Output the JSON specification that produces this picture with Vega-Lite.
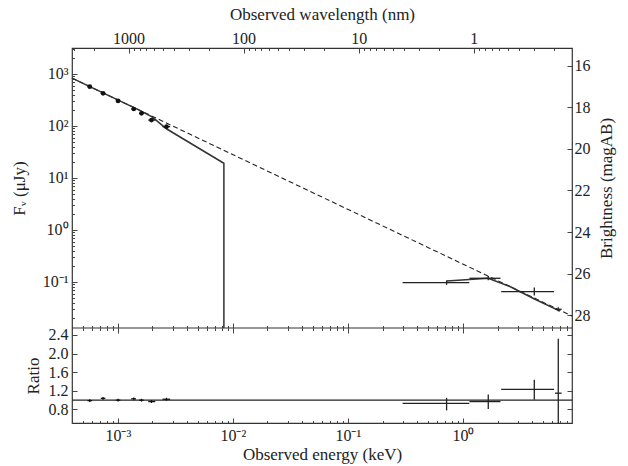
{
  "$schema": "https://vega.github.io/schema/vega-lite/v6.json",
  "width": 500,
  "height": 375,
  "autosize": {"type": "none"},
  "padding": {"left": 72, "top": 48, "right": 56, "bottom": 43},
  "background": "white",
  "config": {
    "font": "Liberation Serif",
    "view": {"stroke": "#333", "strokeWidth": 1.2},
    "axis": {
      "labelFont": "Liberation Serif",
      "titleFont": "Liberation Serif",
      "labelFontSize": 16,
      "titleFontSize": 17,
      "titleFontWeight": "normal",
      "labelColor": "#222",
      "titleColor": "#222",
      "domain": false,
      "grid": false,
      "tickColor": "#444",
      "tickWidth": 1,
      "labelOverlap": false,
      "labelFlush": false
    }
  },
  "datasets": {
    "dashed": [{"E": 0.0004, "F": 835}, {"E": 8.87, "F": 0.0222}],
    "solid": [
      {"seg": "o", "i": 1, "E": 0.0004, "F": 835},
      {"seg": "o", "i": 2, "E": 0.001553, "F": 200},
      {"seg": "o", "i": 3, "E": 0.002, "F": 148},
      {"seg": "o", "i": 4, "E": 0.002667, "F": 87.5},
      {"seg": "o", "i": 5, "E": 0.00836, "F": 19.2},
      {"seg": "o", "i": 6, "E": 0.00836, "F": 0.01304},
      {"seg": "x", "i": 1, "E": 0.721, "F": 0.1045},
      {"seg": "x", "i": 2, "E": 1.66, "F": 0.118},
      {"seg": "x", "i": 3, "E": 2.56, "F": 0.082},
      {"seg": "x", "i": 4, "E": 4.23, "F": 0.0465},
      {"seg": "x", "i": 5, "E": 6.97, "F": 0.0275}
    ],
    "opt": [
      {"E": 0.000571, "Elo": 0.000545, "Ehi": 0.000598, "F": 570, "Flo": 545, "Fhi": 596, "R": 0.99, "Rlo": 0.96, "Rhi": 1.02},
      {"E": 0.000745, "Elo": 0.000712, "Ehi": 0.00078, "F": 425, "Flo": 405, "Fhi": 446, "R": 1.04, "Rlo": 1.01, "Rhi": 1.07},
      {"E": 0.001006, "Elo": 0.00096, "Ehi": 0.001052, "F": 303, "Flo": 289, "Fhi": 318, "R": 1.0, "Rlo": 0.97, "Rhi": 1.03},
      {"E": 0.001377, "Elo": 0.00131, "Ehi": 0.00144, "F": 212, "Flo": 202, "Fhi": 222, "R": 1.03, "Rlo": 1.0, "Rhi": 1.06},
      {"E": 0.001607, "Elo": 0.00153, "Ehi": 0.00168, "F": 175, "Flo": 167, "Fhi": 184, "R": 1.0, "Rlo": 0.97, "Rhi": 1.03},
      {"E": 0.001963, "Elo": 0.00184, "Ehi": 0.00212, "F": 130, "Flo": 123, "Fhi": 137, "R": 0.97, "Rlo": 0.94, "Rhi": 1.0},
      {"E": 0.00265, "Elo": 0.00245, "Ehi": 0.00285, "F": 97, "Flo": 92, "Fhi": 102, "R": 1.02, "Rlo": 0.99, "Rhi": 1.05}
    ],
    "xr": [
      {"E": 0.721, "Elo": 0.299, "Ehi": 1.135, "F": 0.097, "Flo": 0.088, "Fhi": 0.107, "R": 0.93, "Rlo": 0.78, "Rhi": 1.05},
      {"E": 1.66, "Elo": 1.14, "Ehi": 2.12, "F": 0.118, "Flo": 0.108, "Fhi": 0.13, "R": 0.97, "Rlo": 0.81, "Rhi": 1.12},
      {"E": 4.17, "Elo": 2.15, "Ehi": 6.2, "F": 0.065, "Flo": 0.055, "Fhi": 0.078, "R": 1.23, "Rlo": 1.01, "Rhi": 1.44},
      {"E": 6.74, "Elo": 6.31, "Ehi": 7.21, "F": 0.0299, "Flo": 0.0274, "Fhi": 0.0327, "R": 1.15, "Rlo": 0.51, "Rhi": 2.32}
    ],
    "one": [{"lam": 10, "mag": 20, "R": 2.55, "E": 0.01}]
  },
  "layer": [
    {
      "data": {"name": "dashed"},
      "mark": {"type": "line", "color": "#222", "strokeWidth": 1.1, "strokeDash": [5, 3]},
      "encoding": {
        "x": {"field": "E", "type": "quantitative",
          "scale": {"type": "log", "domain": [0.0004, 8.87], "range": [0, 500]},
          "axis": {"orient": "bottom", "title": "Observed energy (keV)",
            "values": [0.0004,0.0005,0.0006,0.0007,0.0008,0.0009,0.001,0.002,0.003,0.004,0.005,0.006,0.007,0.008,0.009,0.01,0.02,0.03,0.04,0.05,0.06,0.07,0.08,0.09,0.1,0.2,0.3,0.4,0.5,0.6,0.7,0.8,0.9,1,2,3,4,5,6,7,8],
            "labelExpr": "datum.value == 0.001 ? '10⁻³' : datum.value == 0.01 ? '10⁻²' : datum.value == 0.1 ? '10⁻¹' : datum.value == 1 ? '10⁰' : ''",
            "tickSize": {"condition": {"test": "indexof([0.001,0.01,0.1,1], datum.value) >= 0", "value": -5}, "value": -2.5},
            "labelPadding": 9, "titlePadding": 1}},
        "y": {"field": "F", "type": "quantitative",
          "scale": {"type": "log", "domain": [0.01304, 3162.3], "range": [280, 0]},
          "axis": {"orient": "left", "title": "Fᵥ (μJy)",
            "values": [0.02,0.03,0.04,0.05,0.06,0.07,0.08,0.09,0.1,0.2,0.3,0.4,0.5,0.6,0.7,0.8,0.9,1,2,3,4,5,6,7,8,9,10,20,30,40,50,60,70,80,90,100,200,300,400,500,600,700,800,900,1000,2000,3000],
            "labelExpr": "datum.value == 0.1 ? '10⁻¹' : datum.value == 1 ? '10⁰' : datum.value == 10 ? '10¹' : datum.value == 100 ? '10²' : datum.value == 1000 ? '10³' : ''",
            "tickSize": {"condition": {"test": "indexof([0.1,1,10,100,1000], datum.value) >= 0", "value": -5}, "value": -2.5},
            "labelPadding": 9, "titlePadding": 14}}
      }
    },
    {
      "data": {"name": "solid"},
      "mark": {"type": "line", "color": "#333", "strokeWidth": 1.5},
      "encoding": {
        "x": {"field": "E", "type": "quantitative", "scale": {"type": "log", "domain": [0.0004, 8.87], "range": [0, 500]}, "axis": null},
        "y": {"field": "F", "type": "quantitative", "scale": {"type": "log", "domain": [0.01304, 3162.3], "range": [280, 0]}, "axis": null},
        "detail": {"field": "seg"},
        "order": {"field": "i"}
      }
    },
    {
      "data": {"name": "opt"},
      "mark": {"type": "rule", "color": "#111", "strokeWidth": 1.3},
      "encoding": {
        "x": {"field": "Elo", "type": "quantitative", "scale": {"type": "log", "domain": [0.0004, 8.87], "range": [0, 500]}, "axis": null},
        "x2": {"field": "Ehi"},
        "y": {"field": "F", "type": "quantitative", "scale": {"type": "log", "domain": [0.01304, 3162.3], "range": [280, 0]}, "axis": null}
      }
    },
    {
      "data": {"name": "opt"},
      "mark": {"type": "rule", "color": "#111", "strokeWidth": 1.3},
      "encoding": {
        "x": {"field": "E", "type": "quantitative", "scale": {"type": "log", "domain": [0.0004, 8.87], "range": [0, 500]}, "axis": null},
        "y": {"field": "Flo", "type": "quantitative", "scale": {"type": "log", "domain": [0.01304, 3162.3], "range": [280, 0]}, "axis": null},
        "y2": {"field": "Fhi"}
      }
    },
    {
      "data": {"name": "opt"},
      "mark": {"type": "point", "filled": true, "color": "#111", "size": 22, "opacity": 1},
      "encoding": {
        "x": {"field": "E", "type": "quantitative", "scale": {"type": "log", "domain": [0.0004, 8.87], "range": [0, 500]}, "axis": null},
        "y": {"field": "F", "type": "quantitative", "scale": {"type": "log", "domain": [0.01304, 3162.3], "range": [280, 0]}, "axis": null}
      }
    },
    {
      "data": {"name": "xr"},
      "mark": {"type": "rule", "color": "#222", "strokeWidth": 1.3},
      "encoding": {
        "x": {"field": "Elo", "type": "quantitative", "scale": {"type": "log", "domain": [0.0004, 8.87], "range": [0, 500]}, "axis": null},
        "x2": {"field": "Ehi"},
        "y": {"field": "F", "type": "quantitative", "scale": {"type": "log", "domain": [0.01304, 3162.3], "range": [280, 0]}, "axis": null}
      }
    },
    {
      "data": {"name": "xr"},
      "mark": {"type": "rule", "color": "#222", "strokeWidth": 1.3},
      "encoding": {
        "x": {"field": "E", "type": "quantitative", "scale": {"type": "log", "domain": [0.0004, 8.87], "range": [0, 500]}, "axis": null},
        "y": {"field": "Flo", "type": "quantitative", "scale": {"type": "log", "domain": [0.01304, 3162.3], "range": [280, 0]}, "axis": null},
        "y2": {"field": "Fhi"}
      }
    },
    {
      "data": {"name": "one"},
      "mark": {"type": "rule", "color": "#222", "strokeWidth": 1.3},
      "encoding": {
        "y": {"datum": 1, "type": "quantitative",
          "scale": {"type": "linear", "domain": [0.51, 2.55], "range": [375, 280], "zero": false, "nice": false},
          "axis": {"orient": "left", "title": "Ratio", "values": [0.8, 1.2, 1.6, 2.0, 2.4], "format": ".1f",
            "tickSize": -5, "labelPadding": 9, "titlePadding": 6}}
      }
    },
    {
      "data": {"name": "one"},
      "mark": {"type": "rule", "color": "#333", "strokeWidth": 1.2},
      "encoding": {
        "y": {"field": "R", "type": "quantitative",
          "scale": {"type": "linear", "domain": [0.51, 2.55], "range": [375, 280], "zero": false, "nice": false},
          "axis": {"orient": "right", "values": [0.8, 1.2, 1.6, 2.0, 2.4], "labels": false, "title": null, "tickSize": -5}}
      }
    },
    {
      "data": {"name": "opt"},
      "mark": {"type": "rule", "color": "#111", "strokeWidth": 1.3},
      "encoding": {
        "x": {"field": "Elo", "type": "quantitative", "scale": {"type": "log", "domain": [0.0004, 8.87], "range": [0, 500]}, "axis": null},
        "x2": {"field": "Ehi"},
        "y": {"field": "R", "type": "quantitative", "scale": {"type": "linear", "domain": [0.51, 2.55], "range": [375, 280], "zero": false, "nice": false}, "axis": null}
      }
    },
    {
      "data": {"name": "opt"},
      "mark": {"type": "rule", "color": "#111", "strokeWidth": 1.3},
      "encoding": {
        "x": {"field": "E", "type": "quantitative", "scale": {"type": "log", "domain": [0.0004, 8.87], "range": [0, 500]}, "axis": null},
        "y": {"field": "Rlo", "type": "quantitative", "scale": {"type": "linear", "domain": [0.51, 2.55], "range": [375, 280], "zero": false, "nice": false}, "axis": null},
        "y2": {"field": "Rhi"}
      }
    },
    {
      "data": {"name": "xr"},
      "mark": {"type": "rule", "color": "#222", "strokeWidth": 1.3},
      "encoding": {
        "x": {"field": "Elo", "type": "quantitative", "scale": {"type": "log", "domain": [0.0004, 8.87], "range": [0, 500]}, "axis": null},
        "x2": {"field": "Ehi"},
        "y": {"field": "R", "type": "quantitative", "scale": {"type": "linear", "domain": [0.51, 2.55], "range": [375, 280], "zero": false, "nice": false}, "axis": null}
      }
    },
    {
      "data": {"name": "xr"},
      "mark": {"type": "rule", "color": "#222", "strokeWidth": 1.3},
      "encoding": {
        "x": {"field": "E", "type": "quantitative", "scale": {"type": "log", "domain": [0.0004, 8.87], "range": [0, 500]}, "axis": null},
        "y": {"field": "Rlo", "type": "quantitative", "scale": {"type": "linear", "domain": [0.51, 2.55], "range": [375, 280], "zero": false, "nice": false}, "axis": null},
        "y2": {"field": "Rhi"}
      }
    },
    {
      "data": {"name": "one"},
      "mark": {"type": "point", "opacity": 0},
      "encoding": {
        "x": {"field": "E", "type": "quantitative",
          "scale": {"type": "log", "domain": [0.0004, 8.87], "range": [0, 500]},
          "axis": {"orient": "bottom", "offset": -95, "labels": false, "title": null,
            "values": [0.0004,0.0005,0.0006,0.0007,0.0008,0.0009,0.001,0.002,0.003,0.004,0.005,0.006,0.007,0.008,0.009,0.01,0.02,0.03,0.04,0.05,0.06,0.07,0.08,0.09,0.1,0.2,0.3,0.4,0.5,0.6,0.7,0.8,0.9,1,2,3,4,5,6,7,8],
            "tickSize": {"condition": {"test": "indexof([0.001,0.01,0.1,1], datum.value) >= 0", "value": -5}, "value": -2.5}}}
      }
    },
    {
      "data": {"name": "one"},
      "mark": {"type": "point", "opacity": 0},
      "encoding": {
        "x": {"field": "E", "type": "quantitative",
          "scale": {"type": "log", "domain": [0.0004, 8.87], "range": [0, 500]},
          "axis": {"orient": "top", "offset": -280, "labels": false, "title": null,
            "values": [0.0004,0.0005,0.0006,0.0007,0.0008,0.0009,0.001,0.002,0.003,0.004,0.005,0.006,0.007,0.008,0.009,0.01,0.02,0.03,0.04,0.05,0.06,0.07,0.08,0.09,0.1,0.2,0.3,0.4,0.5,0.6,0.7,0.8,0.9,1,2,3,4,5,6,7,8],
            "tickSize": {"condition": {"test": "indexof([0.001,0.01,0.1,1], datum.value) >= 0", "value": -5}, "value": -2.5}}}
      }
    },
    {
      "data": {"name": "one"},
      "mark": {"type": "point", "opacity": 0},
      "encoding": {
        "x": {"field": "lam", "type": "quantitative",
          "scale": {"type": "log", "domain": [0.13978, 3099.6], "range": [500, 0]},
          "axis": {"orient": "top", "title": "Observed wavelength (nm)",
            "values": [0.2,0.3,0.4,0.5,0.6,0.7,0.8,0.9,1,2,3,4,5,6,7,8,9,10,20,30,40,50,60,70,80,90,100,200,300,400,500,600,700,800,900,1000,2000,3000],
            "labelExpr": "datum.value == 1000 ? '1000' : datum.value == 100 ? '100' : datum.value == 10 ? '10' : datum.value == 1 ? '1' : ''",
            "tickSize": {"condition": {"test": "indexof([1,10,100,1000], datum.value) >= 0", "value": -5}, "value": -2.5},
            "labelPadding": 7, "titlePadding": 4}}
      }
    },
    {
      "data": {"name": "one"},
      "mark": {"type": "point", "opacity": 0},
      "encoding": {
        "y": {"field": "mag", "type": "quantitative",
          "scale": {"type": "linear", "domain": [15.15, 28.61], "range": [0, 280], "zero": false, "nice": false},
          "axis": {"orient": "right", "title": "Brightness (magAB)", "titleAngle": -90, "titleBaseline": "top",
            "values": [16, 18, 20, 22, 24, 26, 28], "format": "d",
            "tickSize": -5, "labelPadding": 7, "titlePadding": 8}}
      }
    }
  ],
  "resolve": {"scale": {"x": "independent", "y": "independent"}}
}
